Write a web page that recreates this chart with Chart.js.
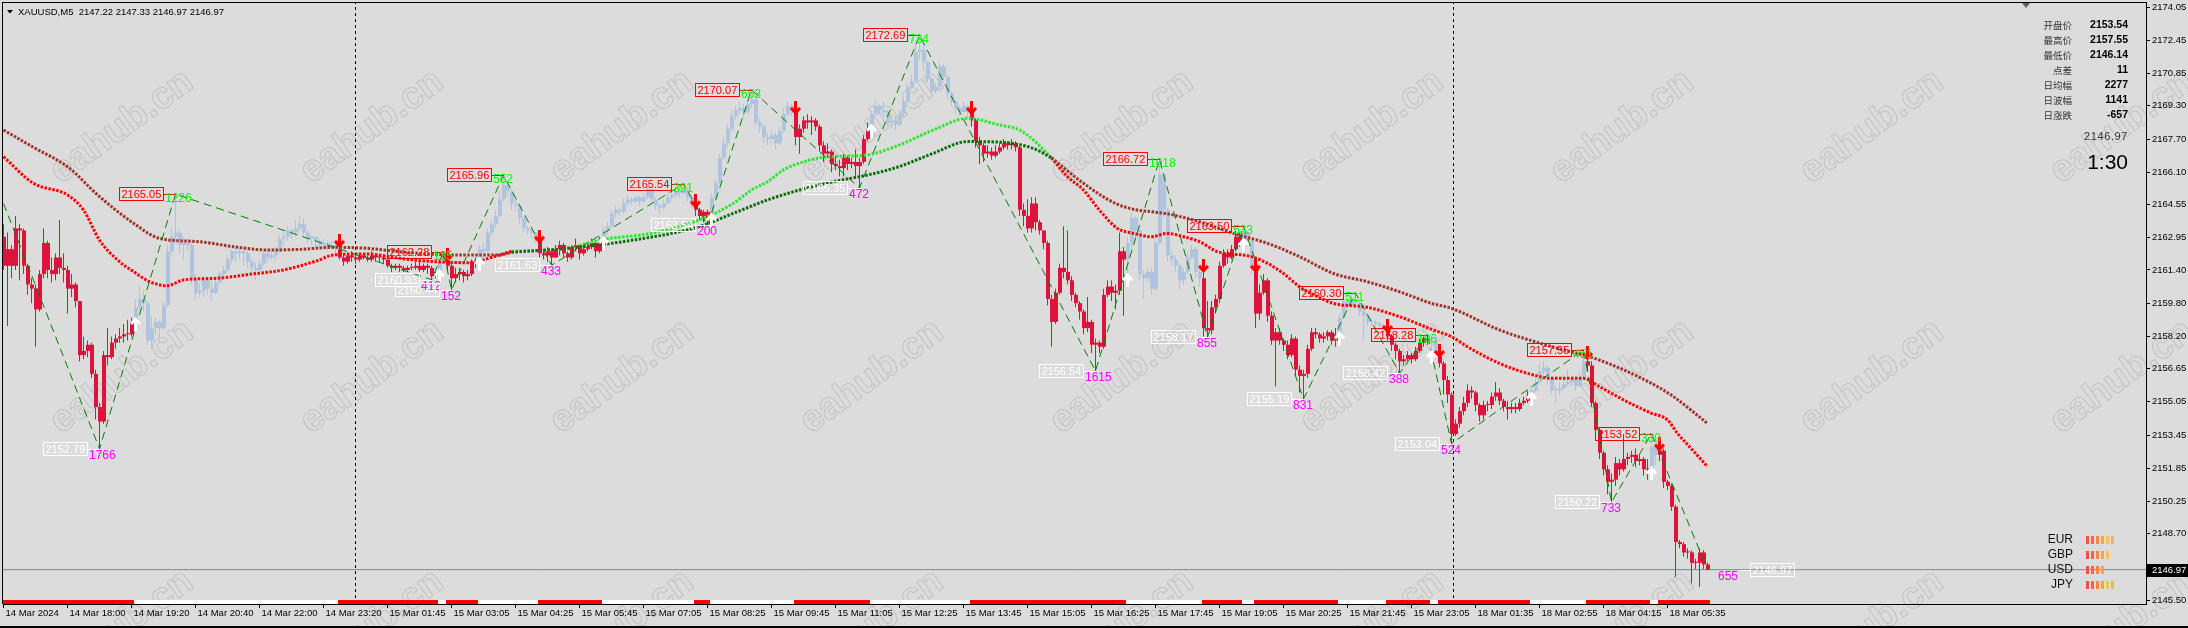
<!DOCTYPE html>
<html>
<head>
<meta charset="utf-8">
<title>XAUUSD M5</title>
<script src="https://cdn.jsdelivr.net/npm/chart.js@4.4.1/dist/chart.umd.min.js"></script>
<style>
  html, body { margin: 0; padding: 0; background: #dcdcdc; }
  canvas { display: block; }
</style>
</head>
<body>
<canvas id="chart" width="2188" height="628"></canvas>
<script>
// XAUUSD M5 - candles, moving averages and zigzag, drawn in the MT4 look

// time axis: a label every 16 bars (80 minutes)
const timeLabels = ['14 Mar 2024', '14 Mar 18:00', '14 Mar 19:20', '14 Mar 20:40', '14 Mar 22:00', '14 Mar 23:20',
  '15 Mar 01:45', '15 Mar 03:05', '15 Mar 04:25', '15 Mar 05:45', '15 Mar 07:05', '15 Mar 08:25', '15 Mar 09:45',
  '15 Mar 11:05', '15 Mar 12:25', '15 Mar 13:45', '15 Mar 15:05', '15 Mar 16:25', '15 Mar 17:45', '15 Mar 19:05',
  '15 Mar 20:25', '15 Mar 21:45', '15 Mar 23:05', '18 Mar 01:35', '18 Mar 02:55', '18 Mar 04:15', '18 Mar 05:35'];
const barsPerLabel = 16;

const priceTicks = [2174.05, 2172.45, 2170.85, 2169.30, 2167.70, 2166.10, 2164.55, 2162.95, 2161.40, 2159.80,
  2158.20, 2156.65, 2155.05, 2153.45, 2151.85, 2150.25, 2148.70, 2147.10, 2145.50];

// bars (open = previous close)
const firstOpen = 2163.0;
const closes = [
  2161.6, 2162.4, 2161.6, 2163.4, 2163.3, 2161.6, 2160.7, 2160.5, 2159.5, 2161.2,
  2162.7, 2161.4, 2161.2, 2162.0, 2161.5, 2161.4, 2160.5, 2160.7, 2159.9, 2157.3,
  2157.5, 2157.8, 2156.4, 2154.8, 2154.1, 2157.3, 2157.2, 2157.9, 2158.1, 2158.2,
  2158.3, 2158.3, 2158.9, 2159.6, 2160.0, 2159.8, 2158.0, 2158.6, 2158.9, 2158.6,
  2159.7, 2162.3, 2163.0, 2163.2, 2162.6, 2162.7, 2162.6, 2161.0, 2160.3, 2160.4,
  2160.9, 2160.5, 2160.3, 2160.8, 2161.2, 2161.4, 2161.9, 2162.3, 2162.2, 2162.3,
  2162.2, 2161.8, 2161.5, 2161.4, 2161.7, 2162.2, 2162.0, 2162.1, 2162.3, 2162.9,
  2163.0, 2163.3, 2163.2, 2163.4, 2163.6, 2163.2, 2162.9, 2163.0, 2162.8, 2162.6,
  2162.7, 2162.5, 2162.6, 2162.4, 2162.0, 2161.8, 2162.1, 2162.0, 2161.9, 2162.1,
  2162.0, 2161.9, 2162.1, 2162.0, 2162.0, 2161.9, 2161.6, 2161.5, 2161.6, 2161.5,
  2161.4, 2161.5, 2161.5, 2161.6, 2161.4, 2161.6, 2161.5, 2161.1, 2161.2, 2161.8,
  2162.1, 2161.6, 2161.0, 2161.2, 2161.3, 2161.1, 2161.2, 2161.8, 2161.8, 2162.4,
  2162.3, 2163.2, 2163.6, 2164.0, 2164.8, 2165.5, 2165.2, 2164.6, 2164.5, 2163.9,
  2163.4, 2163.3, 2163.2, 2162.9, 2162.2, 2162.1, 2162.3, 2162.0, 2162.4, 2162.6,
  2162.2, 2162.0, 2162.5, 2162.6, 2162.2, 2162.4, 2162.5, 2162.7, 2162.3, 2162.8,
  2163.3, 2163.5, 2164.1, 2164.3, 2164.2, 2164.6, 2164.8, 2164.7, 2164.9, 2164.7,
  2164.9, 2165.3, 2164.8, 2164.5, 2164.4, 2164.6, 2164.9, 2165.0, 2165.2, 2165.1,
  2165.3, 2164.9, 2164.6, 2164.3, 2164.0, 2164.2, 2163.9, 2164.9, 2165.6, 2166.8,
  2167.5, 2168.2, 2168.8, 2169.1, 2169.2, 2169.0, 2169.4, 2169.6, 2168.5, 2168.3,
  2167.8, 2167.7, 2167.9, 2167.5, 2168.1, 2168.9, 2169.3, 2169.1, 2167.8, 2168.2,
  2168.6, 2168.5, 2168.6, 2168.3, 2167.4, 2167.0, 2167.1, 2166.5, 2166.4, 2166.3,
  2166.8, 2166.5, 2166.6, 2166.4, 2166.6, 2167.7, 2168.2, 2168.9, 2169.3, 2169.1,
  2169.0, 2168.5, 2168.6, 2168.4, 2168.9, 2169.5, 2170.2, 2170.5, 2171.9, 2172.0,
  2171.4, 2170.6, 2170.0, 2170.2, 2171.2, 2170.7, 2169.9, 2169.5, 2169.2, 2169.0,
  2169.3, 2169.0, 2168.6, 2167.6, 2167.4, 2167.0, 2167.1, 2166.9, 2167.1, 2167.3,
  2167.5, 2167.4, 2167.5, 2167.3, 2164.3, 2164.0, 2163.4, 2164.6, 2163.7, 2163.3,
  2162.7, 2160.0, 2158.9, 2160.3, 2161.5, 2161.3, 2160.9, 2160.2, 2159.8, 2159.4,
  2158.6, 2158.9, 2157.8, 2157.9, 2157.7, 2160.2, 2160.6, 2160.3, 2160.4, 2162.3,
  2161.9, 2162.7, 2163.9, 2163.3, 2161.2, 2161.0, 2161.3, 2160.5, 2162.7, 2166.0,
  2164.3, 2162.1, 2161.9, 2161.6, 2160.9, 2161.3, 2162.0, 2162.4, 2161.3, 2161.0,
  2158.6, 2158.5, 2159.6, 2160.0, 2161.6, 2162.2, 2162.0, 2162.4, 2163.0, 2162.7,
  2163.2, 2162.8, 2161.5, 2159.3, 2160.3, 2160.9, 2159.2, 2158.0, 2158.4, 2158.0,
  2157.8, 2157.3, 2158.1, 2156.6, 2156.3, 2156.4, 2157.6, 2158.4, 2158.3, 2158.1,
  2158.2, 2158.4, 2158.0, 2158.3, 2159.1, 2159.9, 2159.7, 2160.0, 2159.8, 2159.4,
  2159.2, 2158.9, 2158.9, 2158.8, 2158.7, 2158.6, 2158.2, 2157.8, 2157.5, 2157.0,
  2157.1, 2157.3, 2157.1, 2157.5, 2157.9, 2158.1, 2158.0, 2158.0, 2157.4, 2156.9,
  2156.1, 2155.4, 2153.5, 2154.0, 2154.6, 2155.0, 2155.6, 2155.5, 2154.9, 2154.4,
  2154.9, 2154.9, 2155.3, 2155.5, 2155.1, 2154.8, 2154.7, 2154.8, 2154.7, 2155.0,
  2155.1, 2155.3, 2155.6, 2156.0, 2156.5, 2156.7, 2156.2, 2155.6, 2155.6, 2155.7,
  2155.9, 2156.0, 2156.1, 2155.8, 2156.2, 2157.0, 2156.8, 2155.0, 2153.7, 2152.6,
  2151.8, 2151.2, 2151.3, 2152.1, 2151.8, 2152.3, 2152.4, 2152.5, 2152.2, 2152.3,
  2151.8, 2151.8, 2152.9, 2152.5, 2152.7, 2151.2, 2151.0, 2150.0, 2148.3, 2148.2,
  2147.8, 2147.8, 2147.3, 2147.3, 2147.8, 2147.22, 2146.97
];
const highs = [
  2163.6, 2163.2, 2162.6, 2164.0, 2163.6, 2163.4, 2161.7, 2161.0, 2160.7, 2161.4,
  2163.4, 2162.8, 2162.0, 2162.2, 2163.8, 2162.2, 2161.6, 2161.2, 2160.8, 2159.9,
  2158.2, 2158.0, 2157.9, 2156.6, 2155.0, 2157.5, 2158.6, 2158.2, 2158.3, 2158.6,
  2158.8, 2159.0, 2159.1, 2160.0, 2160.6, 2160.4, 2159.9, 2159.2, 2159.1, 2159.0,
  2159.9, 2162.6, 2163.4, 2165.05, 2163.4, 2163.0, 2162.9, 2162.7, 2161.2, 2160.8,
  2161.1, 2161.0, 2160.9, 2161.0, 2161.3, 2161.6, 2162.1, 2162.4, 2162.5, 2162.5,
  2162.5, 2162.3, 2161.9, 2161.8, 2161.9, 2162.3, 2162.4, 2162.3, 2162.5, 2163.1,
  2163.2, 2163.5, 2163.4, 2163.8, 2164.0, 2163.9, 2163.3, 2163.1, 2163.0, 2162.9,
  2162.9, 2162.8, 2162.8, 2162.7, 2162.8, 2162.2, 2162.2, 2162.3, 2162.2, 2162.2,
  2162.2, 2162.1, 2162.3, 2162.2, 2162.1, 2162.1, 2161.9, 2161.7, 2161.7, 2161.7,
  2161.6, 2161.6, 2161.7, 2161.8, 2161.8, 2161.7, 2161.7, 2161.6, 2161.3, 2162.0,
  2162.28, 2162.1, 2161.7, 2161.5, 2161.5, 2161.4, 2161.4, 2161.9, 2162.0, 2162.6,
  2162.7, 2163.4, 2163.8, 2164.3, 2165.2, 2165.96, 2165.6, 2165.3, 2164.8, 2164.6,
  2164.0, 2163.5, 2163.4, 2163.2, 2163.0, 2162.4, 2162.5, 2162.4, 2162.6, 2162.8,
  2162.7, 2162.3, 2162.6, 2162.9, 2162.6, 2162.6, 2162.7, 2162.9, 2162.8, 2163.0,
  2163.5, 2163.7, 2164.3, 2164.5, 2164.4, 2164.8, 2165.0, 2164.9, 2165.0, 2165.0,
  2165.1, 2165.4, 2165.3, 2164.9, 2164.6, 2164.8, 2165.1, 2165.2, 2165.4, 2165.4,
  2165.54, 2165.4, 2165.0, 2164.7, 2164.4, 2164.3, 2164.3, 2165.1, 2165.8, 2167.0,
  2167.8, 2168.4, 2169.1, 2169.3, 2169.5, 2169.4, 2169.6, 2170.07, 2169.7, 2168.7,
  2168.4, 2168.0, 2168.1, 2168.0, 2168.3, 2169.2, 2169.5, 2169.4, 2169.2, 2168.4,
  2168.8, 2168.9, 2168.8, 2168.7, 2168.4, 2167.6, 2167.5, 2167.2, 2166.9, 2166.7,
  2167.0, 2166.9, 2166.8, 2167.2, 2166.8, 2167.9, 2168.5, 2169.1, 2169.6, 2169.4,
  2169.5, 2169.1, 2168.9, 2168.8, 2169.1, 2169.7, 2170.4, 2170.8, 2172.2, 2172.69,
  2172.2, 2171.5, 2170.7, 2170.4, 2171.4, 2171.3, 2170.8, 2170.0, 2169.6, 2169.3,
  2169.5, 2169.3, 2169.2, 2168.7, 2167.8, 2167.5, 2167.4, 2167.3, 2167.4, 2167.5,
  2167.7, 2167.6, 2167.7, 2167.6, 2167.4, 2164.6, 2164.8, 2164.9, 2164.9, 2163.8,
  2163.3, 2162.8, 2160.2, 2160.5, 2161.7, 2163.5, 2163.3, 2161.1, 2160.3, 2159.9,
  2159.5, 2160.1, 2159.0, 2158.1, 2158.0, 2160.5, 2160.9, 2160.9, 2160.7, 2163.2,
  2162.5, 2163.0, 2164.2, 2164.0, 2163.4, 2161.4, 2161.5, 2161.5, 2163.0, 2166.72,
  2166.1, 2164.4, 2162.4, 2162.1, 2161.7, 2161.5, 2162.3, 2162.6, 2162.5, 2161.5,
  2161.6, 2159.9, 2159.9, 2160.2, 2161.8, 2162.4, 2162.4, 2162.6, 2163.3, 2163.2,
  2163.5, 2163.3, 2162.9, 2161.6, 2160.7, 2161.2, 2161.0, 2159.4, 2158.6, 2158.6,
  2158.1, 2158.0, 2158.3, 2158.2, 2156.8, 2156.6, 2157.8, 2158.6, 2158.6, 2158.4,
  2158.4, 2158.5, 2158.5, 2158.6, 2159.3, 2160.0, 2160.1, 2160.2, 2160.30, 2159.9,
  2159.5, 2159.3, 2159.1, 2159.0, 2158.9, 2158.8, 2158.7, 2158.3, 2157.9, 2157.6,
  2157.3, 2157.5, 2157.4, 2157.7, 2158.1, 2158.2, 2158.28, 2158.2, 2158.1, 2157.5,
  2157.0, 2156.3, 2155.5, 2154.2, 2154.8, 2155.3, 2155.9, 2155.8, 2155.6, 2155.0,
  2155.1, 2155.1, 2155.5, 2156.0, 2155.7, 2155.2, 2155.1, 2155.0, 2155.0, 2155.2,
  2155.3, 2155.6, 2155.8, 2156.2, 2156.9, 2157.0, 2156.8, 2156.3, 2155.8, 2156.0,
  2156.1, 2156.6, 2156.3, 2156.3, 2156.5, 2157.55, 2157.4, 2157.0, 2155.1, 2153.8,
  2152.7, 2152.0, 2151.6, 2152.4, 2152.3, 2153.5, 2152.6, 2152.7, 2152.8, 2152.5,
  2152.4, 2152.3, 2153.52, 2153.0, 2153.0, 2152.8, 2151.3, 2151.1, 2150.1, 2148.4,
  2148.3, 2148.0, 2147.9, 2147.5, 2148.0, 2147.9, 2147.33
];
const lows = [
  2161.4, 2158.7, 2161.0, 2161.4, 2160.9, 2161.2, 2160.2, 2159.8, 2157.7, 2159.4,
  2161.0, 2161.0, 2160.8, 2160.9, 2161.2, 2160.8, 2159.3, 2160.1, 2159.6, 2157.0,
  2157.1, 2157.2, 2156.2, 2154.2, 2152.79, 2154.0, 2156.8, 2157.1, 2157.6, 2157.9,
  2157.9, 2158.0, 2158.2, 2158.8, 2159.5, 2159.4, 2157.8, 2157.6, 2158.3, 2157.9,
  2158.5, 2159.6, 2162.1, 2162.7, 2162.2, 2161.9, 2162.3, 2160.7, 2160.0, 2160.1,
  2160.1, 2160.2, 2159.9, 2160.2, 2160.7, 2161.0, 2161.3, 2161.7, 2161.8, 2161.9,
  2161.6, 2161.5, 2161.2, 2160.9, 2161.3, 2161.6, 2161.8, 2161.9, 2161.9, 2162.2,
  2162.6, 2162.8, 2162.9, 2163.0, 2163.2, 2163.0, 2162.7, 2162.6, 2162.5, 2162.4,
  2162.4, 2162.3, 2162.4, 2162.2, 2161.9, 2161.6, 2161.7, 2161.8, 2161.7, 2161.8,
  2161.9, 2161.8, 2161.8, 2161.8, 2161.8, 2161.7, 2161.5, 2161.3, 2161.4, 2161.3,
  2161.3, 2161.3, 2161.4, 2161.4, 2161.3, 2161.3, 2161.2, 2160.93, 2161.0, 2161.1,
  2161.7, 2161.4, 2160.44, 2160.8, 2160.9, 2160.8, 2160.9, 2161.1, 2161.5, 2161.7,
  2162.0, 2162.2, 2163.0, 2163.4, 2163.9, 2164.7, 2164.9, 2164.3, 2164.2, 2163.6,
  2163.2, 2163.1, 2162.9, 2162.7, 2162.0, 2161.9, 2161.8, 2161.63, 2162.0, 2162.1,
  2162.0, 2161.8, 2161.9, 2162.3, 2161.9, 2162.1, 2162.3, 2162.4, 2162.0, 2162.2,
  2162.7, 2163.1, 2163.4, 2163.9, 2164.0, 2164.1, 2164.4, 2164.5, 2164.6, 2164.5,
  2164.6, 2164.8, 2164.6, 2164.3, 2164.1, 2164.3, 2164.6, 2164.7, 2164.9, 2164.9,
  2165.0, 2164.7, 2164.4, 2164.0, 2163.8, 2163.7, 2163.54, 2163.8, 2164.8, 2165.5,
  2166.7, 2167.3, 2168.0, 2168.6, 2168.9, 2168.7, 2168.9, 2169.2, 2168.3, 2168.0,
  2167.5, 2167.4, 2167.5, 2167.2, 2167.4, 2168.0, 2168.8, 2168.8, 2167.4, 2167.0,
  2168.0, 2168.2, 2167.9, 2168.1, 2167.1, 2166.6, 2166.8, 2166.1, 2166.2, 2165.9,
  2165.9, 2166.2, 2166.3, 2165.8, 2165.35, 2166.5, 2167.6, 2168.1, 2168.8, 2168.9,
  2168.7, 2168.3, 2168.2, 2168.1, 2168.3, 2168.8, 2169.4, 2170.1, 2170.4, 2171.5,
  2171.0, 2170.4, 2169.8, 2169.9, 2170.1, 2170.4, 2169.6, 2169.3, 2168.9, 2168.8,
  2169.0, 2168.7, 2168.3, 2167.3, 2166.5, 2166.6, 2166.8, 2166.7, 2166.8, 2167.0,
  2167.2, 2167.2, 2167.2, 2167.1, 2164.0, 2163.5, 2163.2, 2163.2, 2163.3, 2163.1,
  2162.4, 2159.7, 2157.7, 2158.8, 2160.2, 2161.0, 2160.7, 2159.9, 2159.6, 2159.0,
  2158.3, 2158.4, 2157.4, 2156.54, 2157.4, 2157.6, 2160.1, 2159.9, 2159.5, 2160.2,
  2159.2, 2160.9, 2162.4, 2162.9, 2160.9, 2160.0, 2160.8, 2160.2, 2160.4, 2162.6,
  2163.9, 2161.8, 2161.6, 2161.3, 2160.5, 2160.7, 2161.2, 2161.9, 2161.0, 2160.6,
  2158.2, 2158.17, 2158.3, 2159.3, 2159.8, 2161.5, 2161.7, 2161.9, 2162.3, 2162.5,
  2162.6, 2162.5, 2161.2, 2158.6, 2159.0, 2160.2, 2158.9, 2157.8, 2155.8, 2157.8,
  2157.5, 2157.1, 2157.2, 2156.3, 2155.5, 2155.19, 2156.2, 2157.5, 2158.1, 2157.9,
  2157.9, 2158.0, 2157.8, 2157.7, 2158.1, 2159.0, 2159.5, 2159.6, 2159.5, 2159.2,
  2158.0, 2158.7, 2158.7, 2158.6, 2158.5, 2158.4, 2158.0, 2157.5, 2157.1, 2156.42,
  2156.8, 2157.0, 2156.9, 2157.0, 2157.4, 2157.7, 2157.8, 2157.2, 2157.1, 2156.7,
  2155.4, 2155.0, 2153.04, 2153.4, 2153.8, 2154.4, 2154.8, 2155.2, 2154.6, 2154.1,
  2154.2, 2154.6, 2154.7, 2155.1, 2154.9, 2154.6, 2154.2, 2154.5, 2154.5, 2154.6,
  2154.9, 2155.0, 2155.2, 2155.5, 2155.9, 2156.2, 2155.9, 2155.4, 2155.0, 2155.4,
  2155.6, 2155.8, 2155.8, 2155.6, 2155.9, 2156.1, 2156.5, 2154.8, 2153.3, 2152.3,
  2151.5, 2150.6, 2150.22, 2151.0, 2151.5, 2151.7, 2152.0, 2152.1, 2151.9, 2152.0,
  2151.5, 2151.3, 2151.6, 2152.0, 2152.2, 2150.9, 2150.8, 2149.8, 2146.6, 2148.0,
  2147.6, 2147.5, 2146.3, 2147.0, 2146.14, 2147.0, 2146.97
];

// bar ranges where the trend indicator is red (the rest is blue)
const redRuns = [[0, 32], [84, 108], [111, 118], [134, 149], [173, 176], [198, 216], [242, 280],
  [300, 309], [313, 333], [346, 356], [359, 381], [396, 411], [414, 426]];

// zigzag pivots: bar, price, swing size in points
const zzBars = [0, 24, 43, 107, 110, 112, 125, 137, 170, 176, 187, 214, 229, 273, 289, 301, 310, 325, 338, 349, 356, 362, 395, 402, 412, 426];
const zzPrices = [2164.6, 2152.79, 2165.05, 2160.93, 2162.28, 2160.44, 2165.96, 2161.63, 2165.54, 2163.54, 2170.07, 2165.35,
  2172.69, 2156.54, 2166.72, 2158.17, 2163.50, 2155.19, 2160.30, 2156.42, 2158.28, 2153.04, 2157.55, 2150.22, 2153.52, 2146.97];
const zzSwings = ['', '1766', '1226', '412', '135', '152', '552', '433', '391', '200', '653', '472',
  '734', '1615', '1018', '855', '533', '831', '511', '388', '186', '524', '451', '733', '330', '655'];

// moving averages as [bar, price], split where the colours switch
const slowMaDown1 = [[0, 2168.14], [7.5, 2167.30], [16, 2166.37], [24, 2164.93], [32.5, 2163.65], [39, 2162.92], [49, 2162.76],
  [57.5, 2162.52], [66, 2162.36], [74, 2162.39], [82.5, 2162.49], [91, 2162.44], [99, 2162.28], [107.5, 2162.15], [116, 2162.12],
  [124, 2162.12], [127, 2162.25]];
const fastMaDown1 = [[0, 2166.85], [7.5, 2165.57], [16, 2165.01], [20, 2164.29], [24, 2162.84], [28.5, 2161.88], [32.5, 2161.32],
  [36.5, 2160.84], [41, 2160.64], [45, 2160.92], [53.5, 2161.00], [62, 2161.20], [70, 2161.40], [78.5, 2161.85], [82.5, 2162.12],
  [91, 2162.17], [99, 2161.96], [107.5, 2161.80], [116, 2161.75], [124, 2162.12], [127, 2162.30]];
const slowMaUp = [[127, 2162.25], [141, 2162.44], [157.5, 2162.84], [174, 2163.49], [182.5, 2164.13], [191, 2164.77], [199, 2165.25],
  [207.5, 2165.65], [216, 2165.97], [224, 2166.38], [232.5, 2167.02], [241, 2167.58], [249, 2167.55], [257.5, 2167.25], [262, 2166.80]];
const fastMaUp = [[127, 2162.30], [141, 2162.44], [149, 2162.84], [162, 2163.17], [174, 2163.81], [182.5, 2164.61], [187, 2165.25],
  [191, 2165.65], [195, 2166.22], [199, 2166.54], [203.5, 2166.78], [207.5, 2166.86], [216, 2166.94], [224, 2167.42], [232.5, 2168.14],
  [241, 2168.70], [249, 2168.38], [254, 2168.14], [257.5, 2167.65], [262, 2166.80]];
const slowMaDown2 = [[262, 2166.80], [270, 2165.57], [278, 2164.60], [283, 2164.30], [287, 2164.20], [291, 2164.10], [299, 2163.72],
  [307.5, 2163.16], [316, 2162.68], [324, 2162.04], [332.5, 2161.23], [341, 2160.83], [349, 2160.35], [357, 2159.79], [362, 2159.55],
  [374, 2158.51], [387, 2157.71], [399, 2157.06], [412, 2155.94], [417.5, 2155.30], [426, 2154.01]];
const fastMaDown2 = [[262, 2166.80], [266, 2165.89], [270, 2165.25], [274, 2164.28], [278.5, 2163.40], [282.5, 2163.16], [287, 2163.00],
  [291, 2163.16], [295, 2163.00], [299, 2162.76], [303.5, 2162.28], [307.5, 2162.17], [312, 2162.04], [316, 2161.72], [320, 2161.23],
  [324, 2160.59], [328.5, 2160.11], [332.5, 2159.79], [341, 2159.60], [349, 2159.15], [357.5, 2158.51], [362, 2158.19], [366, 2157.70],
  [374, 2156.90], [382.5, 2156.34], [387, 2156.18], [395, 2156.18], [399, 2155.78], [403.5, 2155.30], [407.5, 2154.90], [412, 2154.50],
  [416, 2154.18], [418.5, 2153.53], [421.5, 2152.89], [426, 2151.93]];

const daySeparators = [88, 362.5];

// info panel (top right) and currency strength (bottom right)
const infoNames = ['开盘价', '最高价', '最低价', '点差', '日均幅', '日波幅', '日涨跌'];
const infoValues = ['2153.54', '2157.55', '2146.14', '11', '2277', '1141', '-657'];
const timerText = '1:30';
const currencies = ['EUR', 'GBP', 'USD', 'JPY'];
const currencyStrength = [6, 5, 4, 6];

// ---- derived ----
const X_MIN = -0.125, X_MAX = 535.625;   // 4 px per bar
const Y_MIN = 2145.317, Y_MAX = 2174.252;
const BODY_NUDGE = 0.125;                // half a pixel so 4 px bodies sit on whole pixels
const n = closes.length;
const opens = closes.map((c, i) => i === 0 ? firstOpen : closes[i - 1]);
const lastClose = closes[n - 1];

const isRed = new Array(n).fill(false);
redRuns.forEach(([a, b]) => { for (let i = a; i <= b; i++) isRed[i] = true; });
const candleColors = isRed.map(r => r ? '#dc143c' : '#b0c4de');
const stripColors = isRed.map(r => r ? '#ff0000' : '#ffffff');

const wickData = closes.map((c, i) => ({ x: i, y: [Math.min(lows[i], opens[i], c), Math.max(highs[i], opens[i], c)] }));
const bodyData = closes.map((c, i) => ({ x: i + BODY_NUDGE, y: [opens[i], c] }));
const stripTop = Y_MIN + 4 * (Y_MAX - Y_MIN) / 601;
const stripData = closes.map((c, i) => ({ x: i + BODY_NUDGE, y: [Y_MIN, stripTop] }));

const sellBars = redRuns.map(r => r[0]).filter(i => i > 0);
const buyBars = redRuns.map(r => r[1] + 1).filter(i => i < n);

function makeArrow(color, up) {
  const c = document.createElement('canvas');
  c.width = 11; c.height = 14;
  const g = c.getContext('2d');
  if (!up) { g.translate(0, 14); g.scale(1, -1); }
  g.strokeStyle = color;
  g.lineWidth = 3;
  g.lineJoin = 'miter';
  g.beginPath(); g.moveTo(5.5, 14); g.lineTo(5.5, 2); g.stroke();
  g.beginPath(); g.moveTo(1, 7); g.lineTo(5.5, 2); g.lineTo(10, 7); g.stroke();
  return c;
}
const arrowDown = makeArrow('#ff0000', false);
const arrowUp = makeArrow('#ffffff', true);

const toPts = arr => arr.map(([x, y]) => ({ x, y }));
function maLine(pts, color) {
  return {
    type: 'line', data: toPts(pts), borderColor: color, borderWidth: 3, borderDash: [2.5, 1.5],
    borderCapStyle: 'butt', pointRadius: 0, cubicInterpolationMode: 'monotone', clip: 0, order: 10
  };
}

const FONT = '"Liberation Sans", Arial, sans-serif';

// ---- plugins ----
const backdrop = {
  id: 'backdrop',
  beforeDraw(chart) {
    const ctx = chart.ctx;
    ctx.save();
    ctx.fillStyle = '#dcdcdc';
    ctx.fillRect(0, 0, chart.width, chart.height);
    // watermark grid
    ctx.font = 'bold 38px ' + FONT;
    ctx.strokeStyle = '#c3c3c3';
    ctx.lineWidth = 1;
    ctx.textAlign = 'center';
    ctx.textBaseline = 'middle';
    for (let r = 0; r < 3; r++) {
      for (let k = 0; k < 9; k++) {
        ctx.save();
        ctx.translate(122 + 250 * k, 127 + 250 * r);
        ctx.rotate(-36 * Math.PI / 180);
        ctx.strokeText('eahub.cn', 0, 0);
        ctx.restore();
      }
    }
    ctx.restore();
  }
};

const overlay = {
  id: 'overlay',
  afterDatasetsDraw(chart) {
    const { ctx, scales: { x, y } } = chart;
    ctx.save();

    // frame left / top
    ctx.fillStyle = '#000';
    ctx.fillRect(2, 2, 2145, 1);
    ctx.fillRect(2, 2, 1, 602);

    // zigzag labels
    ctx.textBaseline = 'middle';
    for (let k = 1; k < zzBars.length; k++) {
      const px = Math.round(x.getPixelForValue(zzBars[k]));
      const py = Math.round(y.getPixelForValue(zzPrices[k]));
      const isHigh = k % 2 === 0;
      const boxColor = isHigh ? '#ff0000' : '#ffffff';
      const txt = zzPrices[k].toFixed(2);
      ctx.font = '11px ' + FONT;
      const w = Math.ceil(ctx.measureText(txt).width) + 4;
      let bx, nx, lx0, lx1;
      if (k === zzBars.length - 1) {
        nx = px + 10; lx0 = px + 32; bx = px + 42; lx1 = bx;
      } else {
        bx = px - 13 - w; nx = px - 11; lx0 = px - 13; lx1 = px;
      }
      ctx.strokeStyle = boxColor;
      ctx.lineWidth = 1;
      ctx.beginPath();
      ctx.moveTo(lx0, py + 0.5); ctx.lineTo(lx1, py + 0.5);
      ctx.stroke();
      ctx.strokeRect(bx + 0.5, py - 6.5, w, 13);
      ctx.fillStyle = boxColor;
      ctx.textAlign = 'left';
      ctx.fillText(txt, bx + 2.5, py + 0.5);
      ctx.font = '12px ' + FONT;
      ctx.fillStyle = isHigh ? '#00ff00' : '#ff00ff';
      ctx.fillText(zzSwings[k], nx, py + (isHigh ? 5 : 7));
    }

    // title
    ctx.fillStyle = '#000';
    ctx.beginPath();
    ctx.moveTo(7, 10); ctx.lineTo(13, 10); ctx.lineTo(10, 13.5); ctx.closePath();
    ctx.fill();
    ctx.font = '9.5px ' + FONT;
    ctx.textAlign = 'left';
    const lastBar = n - 1;
    ctx.fillText('XAUUSD,M5  ' + [opens[lastBar], highs[lastBar], lows[lastBar], closes[lastBar]].map(v => v.toFixed(2)).join(' '), 18, 12);

    // info panel
    infoNames.forEach((name, r) => {
      const yy = 25 + r * 15;
      ctx.textAlign = 'right';
      ctx.fillStyle = '#333';
      ctx.font = '9.5px "Noto Sans CJK SC", sans-serif';
      ctx.fillText(name, 2072, yy);
      ctx.fillStyle = '#000';
      ctx.font = 'bold 10.5px ' + FONT;
      ctx.fillText(infoValues[r], 2128, yy);
    });
    ctx.fillStyle = '#333';
    ctx.font = '11px ' + FONT;
    ctx.letterSpacing = '0.6px';
    ctx.fillText(lastClose.toFixed(2), 2128, 137);
    ctx.letterSpacing = '0px';
    ctx.fillStyle = '#000';
    ctx.font = '21px ' + FONT;
    ctx.fillText(timerText, 2128, 163);

    // currency strength
    const barColors = ['#f3533a', '#f4673c', '#f6843f', '#f7a243', '#f8c24c', '#d9c25d'];
    currencies.forEach((cur, r) => {
      const yy = [539.5, 555, 570, 584.5][r];
      ctx.fillStyle = '#111';
      ctx.font = '12px ' + FONT;
      ctx.textAlign = 'right';
      ctx.fillText(cur, 2073, yy);
      for (let b = 0; b < currencyStrength[r]; b++) {
        ctx.fillStyle = barColors[b];
        ctx.fillRect(2086 + b * 5, Math.round(yy) - 4, 3, 8);
      }
    });

    ctx.restore();
  },
  afterDraw(chart) {
    const { ctx, scales: { y } } = chart;
    ctx.save();
    // current price tag on the axis
    const py = Math.round(y.getPixelForValue(lastClose));
    ctx.fillStyle = '#000';
    ctx.fillRect(2147, py - 6, 41, 13);
    ctx.fillStyle = '#fff';
    ctx.font = '9.5px ' + FONT;
    ctx.textAlign = 'left';
    ctx.textBaseline = 'middle';
    ctx.fillText(lastClose.toFixed(2), 2152, py + 0.5);
    // chart shift marker and window edges
    ctx.fillStyle = '#606060';
    ctx.beginPath();
    ctx.moveTo(2022, 3); ctx.lineTo(2030, 3); ctx.lineTo(2026, 8); ctx.closePath();
    ctx.fill();
    ctx.fillStyle = '#000';
    ctx.fillRect(0, 626, 2188, 2);
    ctx.restore();
  }
};

// ---- chart ----
new Chart(document.getElementById('chart'), {
  type: 'bar',
  data: {
    datasets: [
      {
        type: 'scatter', data: sellBars.map(i => ({ x: i, y: highs[i] })),
        pointStyle: arrowDown, pointRadius: 6, order: 1
      },
      {
        type: 'scatter', data: buyBars.map(i => ({ x: i, y: lows[i] })),
        pointStyle: arrowUp, pointRadius: 6, order: 1
      },
      {
        type: 'line', data: zzBars.map((b, k) => ({ x: b, y: zzPrices[k] })),
        borderColor: '#008000', borderWidth: 1, borderDash: [8, 5], pointRadius: 0, tension: 0, clip: 0, order: 9
      },
      maLine(slowMaDown1, '#a33228'),
      maLine(fastMaDown1, '#ff0000'),
      maLine(slowMaUp, '#0b6e0b'),
      maLine(fastMaUp, '#2be82b'),
      maLine(slowMaDown2, '#a33228'),
      maLine(fastMaDown2, '#ff0000'),
      {
        type: 'bar', data: bodyData, backgroundColor: candleColors, barThickness: 4, grouped: false,
        minBarLength: 1, borderWidth: 0, inflateAmount: 0, order: 19
      },
      {
        type: 'bar', data: wickData, backgroundColor: candleColors, barThickness: 1, grouped: false,
        minBarLength: 1, borderWidth: 0, inflateAmount: 0, order: 20
      },
      {
        type: 'line', data: [{ x: X_MIN, y: lastClose }, { x: X_MAX, y: lastClose }],
        borderColor: '#778899', borderWidth: 1, pointRadius: 0, clip: 0, order: 21
      },
      {
        type: 'bar', data: stripData, backgroundColor: stripColors, barThickness: 4, grouped: false,
        borderWidth: 0, inflateAmount: 0, order: 22
      },
      ...daySeparators.map(s => ({
        type: 'line', data: [{ x: s, y: Y_MIN }, { x: s, y: Y_MAX }],
        borderColor: '#000', borderWidth: 1, borderDash: [3, 3], pointRadius: 0, clip: 0, order: 25
      }))
    ]
  },
  options: {
    responsive: false,
    animation: false,
    devicePixelRatio: 1,
    events: [],
    layout: { padding: { left: 3, top: 3, right: 0, bottom: 0 }, autoPadding: false },
    plugins: { legend: { display: false }, tooltip: { enabled: false } },
    scales: {
      x: {
        type: 'linear', position: 'bottom', min: X_MIN, max: X_MAX, offset: false,
        afterFit: s => { s.height = 24; s.paddingLeft = 0; s.paddingRight = 0; },
        afterBuildTicks: s => { s.ticks = timeLabels.map((_, k) => ({ value: k * barsPerLabel })); },
        ticks: {
          autoSkip: false, maxRotation: 0, minRotation: 0, align: 'start', labelOffset: 2, padding: 0,
          color: '#000', font: { family: 'Liberation Sans', size: 9.5 },
          callback: (v, i) => timeLabels[i]
        },
        grid: { drawOnChartArea: false, drawTicks: true, tickLength: 4, color: '#000', offset: false },
        border: { display: true, color: '#000' }
      },
      y: {
        type: 'linear', position: 'right', min: Y_MIN, max: Y_MAX, beginAtZero: false,
        afterFit: s => { s.width = 42; s.paddingTop = 0; s.paddingBottom = 0; },
        afterBuildTicks: s => { s.ticks = priceTicks.map(v => ({ value: v })); },
        ticks: {
          padding: 2, color: '#000', font: { family: 'Liberation Sans', size: 9.5 },
          callback: v => Number(v).toFixed(2)
        },
        grid: { drawOnChartArea: false, drawTicks: true, tickLength: 4, color: '#000' },
        border: { display: true, color: '#000' }
      }
    }
  },
  plugins: [backdrop, overlay]
});
</script>
</body>
</html>
